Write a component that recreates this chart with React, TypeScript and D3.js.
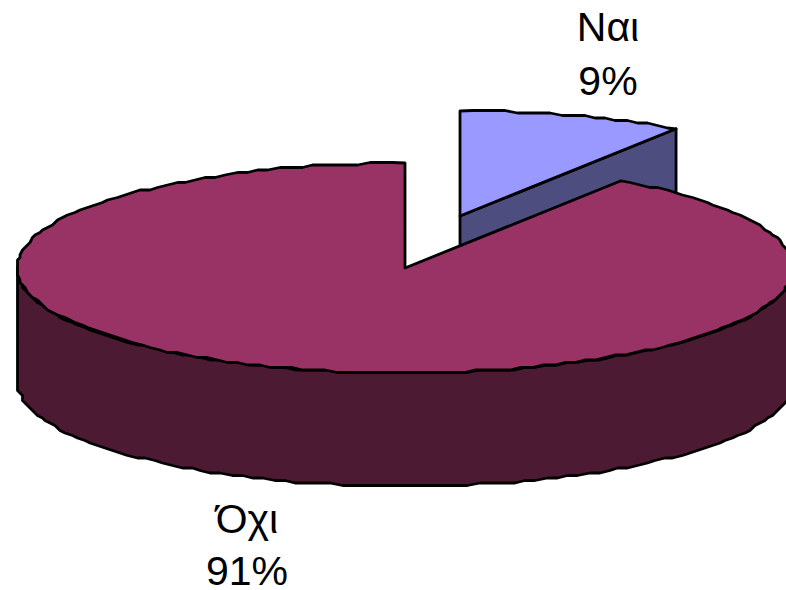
import * as d3 from "d3";

const categories = ["Ναι", "Όχι"];
const shares = [9.4, 90.6]; // labels show the rounded percent
const topColors = ["#9999ff", "#993366"];
const wallColors = ["#4d4d80", "#4d1a33"];

const width = 786;
const height = 590;
const cx = 405;
const cy = 268;
const rx = 388;
const ry = 105;
const depth = 113;
const explode: [number, number] = [55, -52];
const grid = 2.5; // the original outline is snapped to a coarse grid

const xScale = d3.scaleLinear().domain([-1, 1]).range([cx - rx, cx + rx]);
const yScale = d3.scaleLinear().domain([-1, 1]).range([cy - ry, cy + ry]);
const snap = (v: number) => Math.round(v / grid) * grid;

const rim = (t: number): [number, number] => [
  snap(xScale(Math.sin(t))),
  snap(yScale(-Math.cos(t))),
];

const arcPoints = (a: number, b: number) =>
  d3.range(0, 1.0001, 1 / Math.max(2, Math.round(Math.abs(b - a) / 0.03))).map((k) => rim(a + (b - a) * k));

const line = d3.line().curve(d3.curveLinear);
const down = (p: [number, number]): [number, number] => [p[0], p[1] + depth];
const centre: [number, number] = [xScale(0), yScale(0)];

const arcs = d3.pie<number>().sort(null)(shares);

function wallPath(i: number) {
  const { startAngle, endAngle } = arcs[i];
  if (i === 0) {
    const edge = [centre, [xScale(Math.sin(endAngle)), yScale(-Math.cos(endAngle))] as [number, number]];
    return line([edge[0], edge[1], down(edge[1]), down(edge[0])]) + "Z";
  }
  const a = Math.max(startAngle, Math.PI / 2);
  const b = Math.min(endAngle, (3 * Math.PI) / 2);
  const front = arcPoints(a, b);
  return line([...front, ...front.map(down).reverse()]) + "Z";
}

function topPath(i: number) {
  const { startAngle, endAngle } = arcs[i];
  const pts = arcPoints(startAngle, endAngle);
  return line([centre, [xScale(Math.sin(startAngle)), yScale(-Math.cos(startAngle))], ...pts.slice(1, -1), [xScale(Math.sin(endAngle)), yScale(-Math.cos(endAngle))]]) + "Z";
}

const labelPos = [
  { x: 608, y1: 41, y2: 95 },
  { x: 247, y1: 533, y2: 585 },
];

export default function App() {
  return (
    <svg
      width={width}
      height={height}
      viewBox={`0 0 ${width} ${height}`}
      style={{ position: "absolute", left: 0, top: 0, background: "#fff" }}
    >
      {categories.map((c, i) => (
        <g
          key={c}
          transform={i === 0 ? `translate(${explode[0]},${explode[1]})` : undefined}
          stroke="#000"
          strokeWidth={2.8}
          strokeLinejoin="round"
        >
          <path d={wallPath(i)} fill={wallColors[i]} />
          <path d={topPath(i)} fill={topColors[i]} />
        </g>
      ))}
      {categories.map((c, i) => (
        <text
          key={c}
          textAnchor="middle"
          fontFamily="'Liberation Sans', Arial, sans-serif"
          fontSize={41}
          fill="#000"
        >
          <tspan x={labelPos[i].x} y={labelPos[i].y1}>{c}</tspan>
          <tspan x={labelPos[i].x} y={labelPos[i].y2}>{`${Math.round(shares[i])}%`}</tspan>
        </text>
      ))}
    </svg>
  );
}
